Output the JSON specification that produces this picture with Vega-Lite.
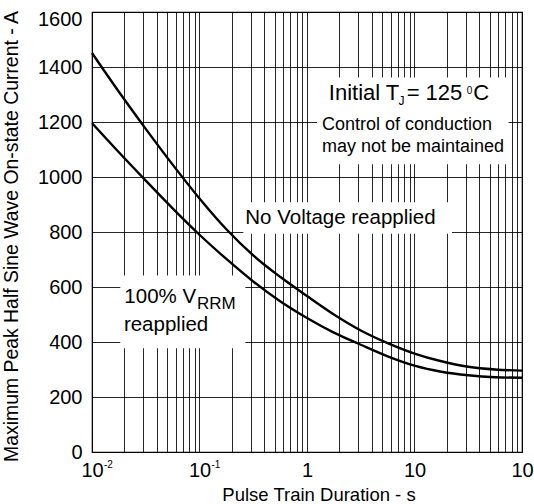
{
  "$schema": "https://vega.github.io/schema/vega-lite/v6.json",
  "width": 430,
  "height": 440,
  "autosize": {"type": "none"},
  "padding": {"left": 92, "top": 12, "right": 12, "bottom": 52},
  "background": "white",
  "config": {
    "font": "Liberation Sans",
    "view": {"stroke": "black", "strokeWidth": 1.2},
    "axis": {
      "labelFont": "Liberation Sans",
      "labelFontSize": 20,
      "labelColor": "black",
      "titleFont": "Liberation Sans",
      "titleFontWeight": "normal",
      "titleColor": "black",
      "grid": true,
      "gridColor": "#000000",
      "gridOpacity": 0.85,
      "gridWidth": 1,
      "ticks": false,
      "tickSize": 0,
      "domain": false
    }
  },
  "encoding": {
    "x": {
      "field": "t",
      "type": "quantitative",
      "scale": {"type": "log", "domain": [0.01, 100], "nice": false},
      "axis": {
        "values": [0.01, 0.02, 0.03, 0.04, 0.05, 0.06, 0.07, 0.08, 0.09,
                   0.1, 0.2, 0.3, 0.4, 0.5, 0.6, 0.7, 0.8, 0.9,
                   1, 2, 3, 4, 5, 6, 7, 8, 9,
                   10, 20, 30, 40, 50, 60, 70, 80, 90, 100],
        "labelExpr": "datum.value == 0.01 || datum.value == 0.1 || datum.value == 10 || datum.value == 100 ? '10' : datum.value == 1 ? '1' : ''",
        "labelPadding": 8,
        "labelFlush": false,
        "labelOverlap": false,
        "labelBound": false,
        "title": "Pulse Train Duration - s",
        "titleFontSize": 18.5,
        "titleX": 226.5,
        "titleY": 48,
        "titleBaseline": "alphabetic",
        "titleAlign": "center"
      }
    },
    "y": {
      "field": "a",
      "type": "quantitative",
      "scale": {"domain": [0, 1600], "nice": false, "zero": false},
      "axis": {
        "values": [0, 200, 400, 600, 800, 1000, 1200, 1400, 1600],
        "format": "d",
        "labelPadding": 10,
        "labelOffset": {"condition": {"test": "datum.value == 1600", "value": 7}, "value": 0},
        "title": "Maximum Peak Half Sine Wave On-state Current - A",
        "titleFontSize": 19.4,
        "titleX": -74.7,
        "titleY": 224,
        "titleBaseline": "alphabetic",
        "titleAlign": "center"
      }
    }
  },
  "layer": [
    {
      "data": {"values": [
        {"box": "conditions", "t": 1.239, "t2": 75.0, "a": 1046, "a2": 1362},
        {"box": "no voltage", "t": 0.2556, "t2": 22.3, "a": 794, "a2": 908},
        {"box": "vrrm", "t": 0.01833, "t2": 0.2667, "a": 377, "a2": 642}
      ]},
      "mark": {"type": "rect", "fill": "white", "stroke": null},
      "encoding": {"x2": {"field": "t2"}, "y2": {"field": "a2"}}
    },
    {
      "data": {"values": [
        {"s": "No Voltage reapplied", "t": 0.01, "a": 1451},
        {"s": "No Voltage reapplied", "t": 0.01778, "a": 1310},
        {"s": "No Voltage reapplied", "t": 0.03162, "a": 1175},
        {"s": "No Voltage reapplied", "t": 0.05623, "a": 1045},
        {"s": "No Voltage reapplied", "t": 0.1, "a": 922},
        {"s": "No Voltage reapplied", "t": 0.1778, "a": 810},
        {"s": "No Voltage reapplied", "t": 0.3162, "a": 715},
        {"s": "No Voltage reapplied", "t": 0.5623, "a": 637},
        {"s": "No Voltage reapplied", "t": 1, "a": 567},
        {"s": "No Voltage reapplied", "t": 1.778, "a": 500},
        {"s": "No Voltage reapplied", "t": 3.162, "a": 442},
        {"s": "No Voltage reapplied", "t": 5.623, "a": 396},
        {"s": "No Voltage reapplied", "t": 10, "a": 358},
        {"s": "No Voltage reapplied", "t": 17.78, "a": 330},
        {"s": "No Voltage reapplied", "t": 31.62, "a": 310},
        {"s": "No Voltage reapplied", "t": 56.23, "a": 300},
        {"s": "No Voltage reapplied", "t": 100, "a": 296},
        {"s": "100% VRRM reapplied", "t": 0.01, "a": 1196},
        {"s": "100% VRRM reapplied", "t": 0.01778, "a": 1090},
        {"s": "100% VRRM reapplied", "t": 0.03162, "a": 987},
        {"s": "100% VRRM reapplied", "t": 0.05623, "a": 886},
        {"s": "100% VRRM reapplied", "t": 0.1, "a": 790},
        {"s": "100% VRRM reapplied", "t": 0.1778, "a": 702},
        {"s": "100% VRRM reapplied", "t": 0.3162, "a": 620},
        {"s": "100% VRRM reapplied", "t": 0.5623, "a": 548},
        {"s": "100% VRRM reapplied", "t": 1, "a": 487},
        {"s": "100% VRRM reapplied", "t": 1.778, "a": 434},
        {"s": "100% VRRM reapplied", "t": 3.162, "a": 390},
        {"s": "100% VRRM reapplied", "t": 5.623, "a": 348},
        {"s": "100% VRRM reapplied", "t": 10, "a": 314},
        {"s": "100% VRRM reapplied", "t": 17.78, "a": 292},
        {"s": "100% VRRM reapplied", "t": 31.62, "a": 279},
        {"s": "100% VRRM reapplied", "t": 56.23, "a": 272},
        {"s": "100% VRRM reapplied", "t": 100, "a": 270}
      ]},
      "mark": {"type": "line", "color": "black", "strokeWidth": 2.4, "interpolate": "monotone"},
      "encoding": {"detail": {"field": "s"}}
    },
    {
      "data": {"values": [
        {"t": 1.595, "a": 1279, "text": "Initial T"},
        {"t": 8.45, "a": 1279, "text": "= 125"},
        {"t": 35.2, "a": 1279, "text": "C"}
      ]},
      "mark": {"type": "text", "align": "left", "baseline": "alphabetic", "fontSize": 22, "color": "black"},
      "encoding": {"text": {"field": "text"}}
    },
    {
      "data": {"values": [
        {"t": 7.10, "a": 1261, "text": "J"}
      ]},
      "mark": {"type": "text", "align": "left", "baseline": "alphabetic", "fontSize": 12, "color": "black"},
      "encoding": {"text": {"field": "text"}}
    },
    {
      "data": {"values": [
        {"t": 30.7, "a": 1303, "text": "0"}
      ]},
      "mark": {"type": "text", "align": "left", "baseline": "alphabetic", "fontSize": 10, "color": "black"},
      "encoding": {"text": {"field": "text"}}
    },
    {
      "data": {"values": [
        {"t": 1.379, "a": 1172, "text": "Control of conduction"},
        {"t": 1.376, "a": 1091, "text": "may not be maintained"}
      ]},
      "mark": {"type": "text", "align": "left", "baseline": "alphabetic", "fontSize": 18, "color": "black"},
      "encoding": {"text": {"field": "text"}}
    },
    {
      "data": {"values": [
        {"t": 0.2667, "a": 830, "text": "No Voltage reapplied"},
        {"t": 0.0200, "a": 543, "text": "100% V"},
        {"t": 0.0198, "a": 439, "text": "reapplied"}
      ]},
      "mark": {"type": "text", "align": "left", "baseline": "alphabetic", "fontSize": 20.5, "color": "black"},
      "encoding": {"text": {"field": "text"}}
    },
    {
      "data": {"values": [
        {"t": 0.0946, "a": 521, "text": "RRM"}
      ]},
      "mark": {"type": "text", "align": "left", "baseline": "alphabetic", "fontSize": 17, "color": "black"},
      "encoding": {"text": {"field": "text"}}
    },
    {
      "data": {"values": [
        {"t": 0.01, "a": 0, "text": "-2"},
        {"t": 0.1, "a": 0, "text": "-1"},
        {"t": 100, "a": 0, "text": "2"}
      ]},
      "mark": {"type": "text", "align": "left", "baseline": "alphabetic", "fontSize": 10, "dx": 12, "dy": 16, "color": "black"},
      "encoding": {"text": {"field": "text"}}
    }
  ]
}
